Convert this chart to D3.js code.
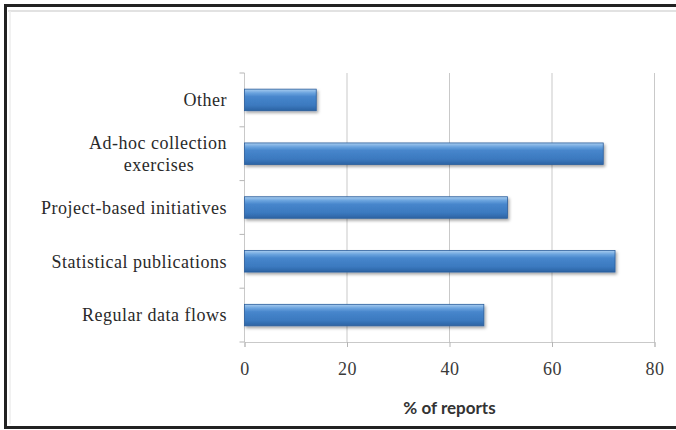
<!DOCTYPE html>
<html>
<head>
<meta charset="utf-8">
<script src="https://cdn.jsdelivr.net/npm/d3@7"></script>
<style>
  html, body { margin: 0; padding: 0; background: #fff; }
  svg { display: block; }
</style>
</head>
<body>
<svg id="chart" width="676" height="430"></svg>
<script>
const categories = ["Other", "Ad-hoc collection exercises", "Project-based initiatives", "Statistical publications", "Regular data flows"];
const labelLines = [["Other"], ["Ad-hoc collection", "exercises"], ["Project-based initiatives"], ["Statistical publications"], ["Regular data flows"]];
const values = [14, 70, 51.3, 72.3, 46.7];
const xTicks = [0, 20, 40, 60, 80];
const xTitle = "% of reports";

const svg = d3.select("#chart");
const W = 676, H = 430;
const margin = { left: 244.5, right: 676 - 654.5, top: 73, bottom: 430 - 342 };
const serif = "'Liberation Serif', 'Times New Roman', serif";

// Frame
svg.append("rect").attr("x", 5.5).attr("y", 5.5).attr("width", W + 10).attr("height", 422)
  .attr("fill", "none").attr("stroke", "#222").attr("stroke-width", 3);
svg.append("line").attr("x1", 8).attr("x2", W).attr("y1", 11).attr("y2", 11)
  .attr("stroke", "#d8d8d8").attr("stroke-width", 1.5);
svg.append("line").attr("x1", 10).attr("x2", 10).attr("y1", 11).attr("y2", 424)
  .attr("stroke", "#ececec").attr("stroke-width", 1.5);

const defs = svg.append("defs");
const grad = defs.append("linearGradient").attr("id", "barGrad")
  .attr("x1", 0).attr("y1", 0).attr("x2", 0).attr("y2", 1);
[[0, "#a9cdf0"], [0.18, "#6aa3de"], [0.35, "#4786cc"], [0.75, "#3b79bf"], [1, "#2c63a3"]]
  .forEach(([o, c]) => grad.append("stop").attr("offset", o).attr("stop-color", c));
const shadow = defs.append("filter").attr("id", "shadow").attr("x", "-5%").attr("y", "-20%").attr("width", "115%").attr("height", "160%");
shadow.append("feDropShadow").attr("dx", 1.5).attr("dy", 2).attr("stdDeviation", 1.5)
  .attr("flood-color", "#000").attr("flood-opacity", 0.35);

const x = d3.scaleLinear().domain([0, 80]).range([margin.left, W - margin.right]);
const y = d3.scaleBand().domain(categories).range([margin.top, H - margin.bottom]).paddingInner(0.6).paddingOuter(0.3);
const yEdges = d3.scaleLinear().domain([0, categories.length]).range([margin.top, H - margin.bottom]);

// Gridlines
svg.append("g").selectAll("line").data(xTicks.slice(1)).join("line")
  .attr("x1", d => x(d)).attr("x2", d => x(d))
  .attr("y1", margin.top).attr("y2", H - margin.bottom)
  .attr("stroke", "#c9c9c9").attr("stroke-width", 1);

// X axis
const xAxis = svg.append("g").attr("transform", `translate(0,${H - margin.bottom})`)
  .call(d3.axisBottom(x).tickValues(xTicks).tickSize(5).tickPadding(15));
xAxis.select(".domain").attr("stroke", "#c9c9c9");
xAxis.selectAll(".tick line").attr("stroke", "#b5b5b5");
xAxis.selectAll("text").attr("font-family", serif).attr("font-size", 18)
  .attr("letter-spacing", 0.5).attr("fill", "#3a3a3a");

// Y axis line and ticks between categories
svg.append("line").attr("x1", margin.left).attr("x2", margin.left)
  .attr("y1", margin.top).attr("y2", H - margin.bottom).attr("stroke", "#c9c9c9");
svg.append("g").selectAll("line").data(d3.range(0, categories.length + 1)).join("line")
  .attr("x1", margin.left - 5).attr("x2", margin.left)
  .attr("y1", d => yEdges(d)).attr("y2", d => yEdges(d))
  .attr("stroke", "#b5b5b5");

// Bars
svg.append("g").selectAll("rect").data(categories).join("rect")
  .attr("x", x(0))
  .attr("y", d => y(d))
  .attr("width", (d, i) => x(values[i]) - x(0))
  .attr("height", y.bandwidth())
  .attr("fill", "url(#barGrad)")
  .attr("stroke", "#2b5e9c").attr("stroke-width", 0.8)
  .attr("filter", "url(#shadow)");

// Category labels
const labelX = 227;
categories.forEach((c, i) => {
  const lines = labelLines[i];
  const cy = y(c) + y.bandwidth() / 2;
  const lh = 22;
  const g = svg.append("g");
  const first = g.append("text")
    .attr("x", labelX).attr("y", cy - (lines.length - 1) * lh / 2)
    .attr("dy", "0.35em").attr("text-anchor", "end")
    .attr("font-family", serif).attr("font-size", 18).attr("letter-spacing", 0.5).attr("fill", "#2a2a2a")
    .text(lines[0]);
  if (lines.length > 1) {
    const w = first.node().getComputedTextLength();
    const center = labelX - w / 2;
    lines.slice(1).forEach((ln, k) => {
      g.append("text")
        .attr("x", center + 1).attr("y", cy - (lines.length - 1) * lh / 2 + (k + 1) * lh)
        .attr("dy", "0.35em").attr("text-anchor", "middle")
        .attr("font-family", serif).attr("font-size", 18).attr("letter-spacing", 0.5).attr("fill", "#2a2a2a")
        .text(ln);
    });
  }
});

// X title
svg.append("text").attr("x", (x(0) + x(80)) / 2).attr("y", 408).attr("dy", "0.35em")
  .attr("text-anchor", "middle").attr("font-family", "Lato, 'Open Sans', sans-serif")
  .attr("font-weight", "bold").attr("font-size", 17).attr("fill", "#333").text(xTitle);
</script>
</body>
</html>
